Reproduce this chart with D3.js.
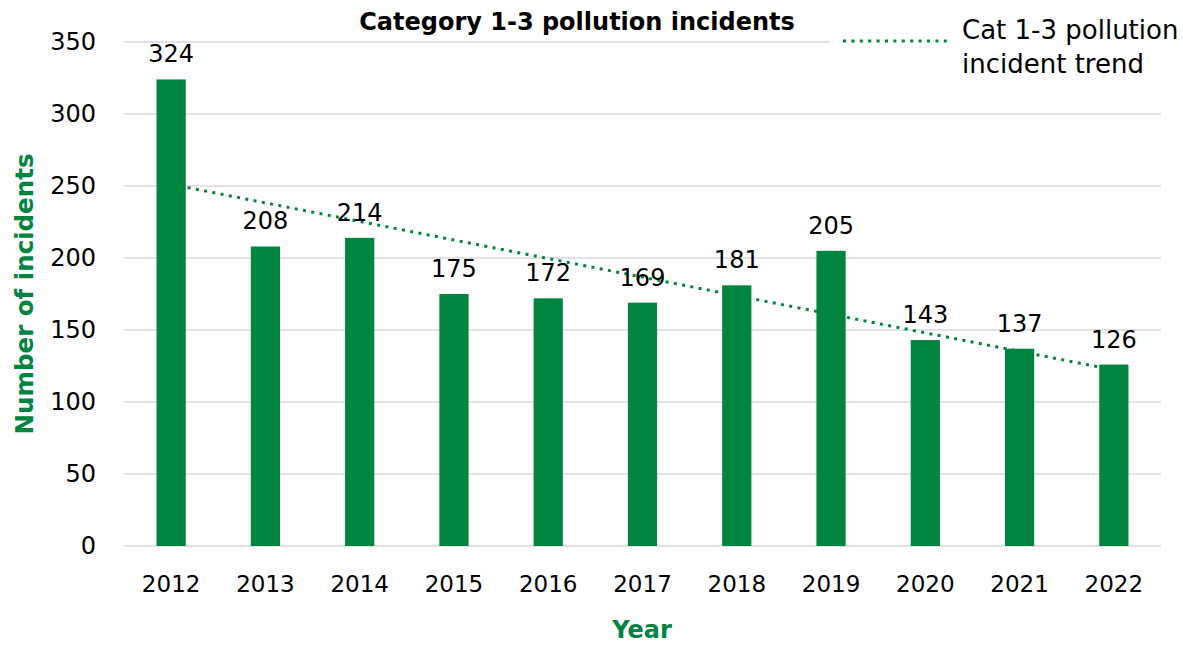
<!DOCTYPE html>
<html>
<head>
<meta charset="utf-8">
<script src="https://cdn.jsdelivr.net/npm/d3@7"></script>
<style>
  body { margin: 0; background: #fff; }
  text { font-family: "DejaVu Sans", sans-serif; fill: #000; }
</style>
</head>
<body>
<svg id="chart" width="1183" height="645"></svg>
<script>
const years = ["2012", "2013", "2014", "2015", "2016", "2017", "2018", "2019", "2020", "2021", "2022"];
const incidents = [324, 208, 214, 175, 172, 169, 181, 205, 143, 137, 126];
const yTicks = [0, 50, 100, 150, 200, 250, 300, 350];

const green = "#00843F";
const font = "'DejaVu Sans', sans-serif";
const svg = d3.select("#chart");
const margin = { left: 124, right: 22, top: 42, bottom: 99 };
const width = 1183, height = 645;

const x = d3.scaleBand()
  .domain(years)
  .range([margin.left, width - margin.right])
  .paddingInner(0.69)
  .paddingOuter(0.345);

const y = d3.scaleLinear()
  .domain([0, 350])
  .range([height - margin.bottom, margin.top]);

// gridlines
svg.append("g")
  .selectAll("line")
  .data(yTicks)
  .enter()
  .append("line")
  .attr("x1", margin.left)
  .attr("x2", width - margin.right)
  .attr("y1", d => y(d))
  .attr("y2", d => y(d))
  .attr("stroke", "#d9d9d9")
  .attr("stroke-width", 1.5);

// y axis labels
const yAxis = svg.append("g")
  .attr("transform", `translate(${margin.left - 28},0)`)
  .call(d3.axisLeft(y).tickValues(yTicks).tickSize(0).tickPadding(0));
yAxis.select(".domain").remove();
yAxis.selectAll("text")
  .style("font-size", "24px")
  .style("font-family", font)
  .attr("fill", "#000");

// x axis labels
const xAxis = svg.append("g")
  .attr("transform", `translate(0,${y(0)})`)
  .call(d3.axisBottom(x).tickSize(0).tickPadding(30));
xAxis.select(".domain").remove();
xAxis.selectAll("text")
  .style("font-size", "23px")
  .style("font-family", font)
  .attr("fill", "#000");

// linear trendline (least squares over the data), drawn behind bars
const xs = incidents.map((d, i) => i);
const mx = d3.mean(xs), my = d3.mean(incidents);
const slope = d3.sum(xs, i => (i - mx) * (incidents[i] - my)) / d3.sum(xs, i => (i - mx) ** 2);
const intercept = my - slope * mx;
const trend = years.map((yr, i) => ({ yr, v: intercept + slope * i }));

svg.append("path")
  .datum(trend)
  .attr("fill", "none")
  .attr("stroke", green)
  .attr("stroke-width", 3)
  .attr("stroke-dasharray", "3 5.4")
  .attr("d", d3.line()
    .x(d => x(d.yr) + x.bandwidth() / 2)
    .y(d => y(d.v)));

// bars
svg.append("g")
  .selectAll("rect")
  .data(incidents)
  .enter()
  .append("rect")
  .attr("x", (d, i) => x(years[i]))
  .attr("y", d => y(d))
  .attr("width", x.bandwidth())
  .attr("height", d => y(0) - y(d))
  .attr("fill", green);

// value labels
svg.append("g")
  .selectAll("text")
  .data(incidents)
  .enter()
  .append("text")
  .attr("x", (d, i) => x(years[i]) + x.bandwidth() / 2)
  .attr("y", d => y(d) - 17)
  .attr("text-anchor", "middle")
  .style("font-size", "24px")
  .text(d => d);

// title
svg.append("rect")
  .attr("x", 352).attr("y", 0).attr("width", 446).attr("height", 40)
  .attr("fill", "#fff");
svg.append("text")
  .attr("x", 577)
  .attr("y", 30)
  .attr("text-anchor", "middle")
  .style("font-size", "24px")
  .style("font-weight", "bold")
  .text("Category 1-3 pollution incidents");

// legend
svg.append("rect")
  .attr("x", 830).attr("y", 0).attr("width", 353).attr("height", 90)
  .attr("fill", "#fff");
svg.append("line")
  .attr("x1", 843).attr("x2", 948)
  .attr("y1", 41).attr("y2", 41)
  .attr("stroke", green)
  .attr("stroke-width", 3)
  .attr("stroke-dasharray", "3 5.4");
const leg = svg.append("text")
  .attr("x", 962)
  .attr("y", 39)
  .style("font-size", "26px");
leg.append("tspan").attr("x", 962).text("Cat 1-3 pollution");
leg.append("tspan").attr("x", 962).attr("dy", 34).text("incident trend");

// axis titles
svg.append("text")
  .attr("transform", `translate(33,${(y(0) + y(350)) / 2}) rotate(-90)`)
  .attr("text-anchor", "middle")
  .style("font-size", "24.5px")
  .style("font-weight", "bold")
  .style("fill", green)
  .text("Number of incidents");

svg.append("text")
  .attr("x", 642)
  .attr("y", 638)
  .attr("text-anchor", "middle")
  .style("font-size", "24px")
  .style("font-weight", "bold")
  .style("fill", green)
  .text("Year");
</script>
</body>
</html>
